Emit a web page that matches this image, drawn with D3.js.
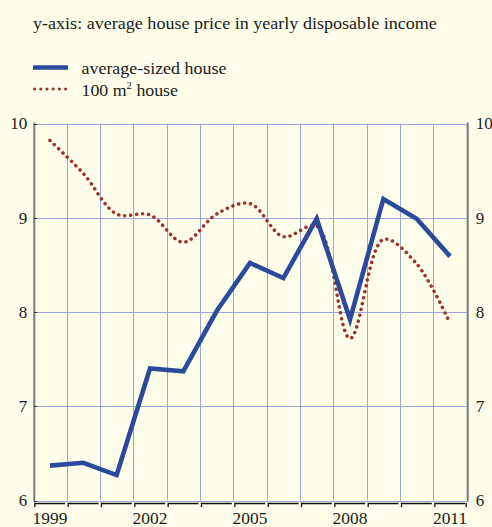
<!DOCTYPE html>
<html><head><meta charset="utf-8">
<script src="https://cdn.jsdelivr.net/npm/d3@7"></script>
<style>
html,body{margin:0;padding:0;background:#fefeea;}
svg{display:block;}
</style></head>
<body><svg id="c" width="492" height="527"></svg>
<script>
const years = [1999,2000,2001,2002,2003,2004,2005,2006,2007,2008,2009,2010,2011];
const averageSized = [6.37,6.40,6.27,7.40,7.37,8.01,8.52,8.36,8.99,7.92,9.20,8.99,8.59];
const house100 = [9.82,9.47,9.04,9.03,8.74,9.04,9.15,8.80,8.91,7.72,8.77,8.51,7.88];
const yTicks = [6,7,8,9,10];
const xLabels = [1999,2002,2005,2008,2011];
const titleText = "y-axis: average house price in yearly disposable income";
const legendLabels = ["average-sized house","100 m"];

const FONT = '"Liberation Serif", "Times New Roman", serif';
const svg = d3.select("#c");
const L = 33.3, R = 466.7, T = 123.5, B = 500.5;
const x = d3.scaleBand().domain(years).range([L,R]);
const y = d3.scaleLinear().domain([6,10]).range([B,T]);
const cx = d => x(d) + x.bandwidth()/2;

svg.append("rect").attr("width",492).attr("height",527).attr("fill","#fefeea");

// grid
const grid = svg.append("g").attr("stroke","#9ea4dc").attr("stroke-width",1);
years.slice(1).forEach(d=>{
  const gx = Math.round(x(d))+0.5;
  grid.append("line").attr("x1",gx).attr("x2",gx).attr("y1",T).attr("y2",B);
});
yTicks.forEach(v=>{
  const gy = Math.round(y(v))+0.5;
  grid.append("line").attr("x1",L).attr("x2",R).attr("y1",gy).attr("y2",gy);
});

// side axes
[L+1,R+1].forEach(ax=>{
  svg.append("line").attr("x1",ax).attr("x2",ax).attr("y1",T-1).attr("y2",B+1)
    .attr("stroke","#777").attr("stroke-width",2);
});
yTicks.forEach(v=>{
  const gy = Math.round(y(v))+0.5;
  svg.append("line").attr("x1",L+1).attr("x2",L+4).attr("y1",gy).attr("y2",gy).attr("stroke","#333").attr("stroke-width",1);
});

// y labels via axes
const yl = d3.axisLeft(y).tickValues(yTicks).tickSize(0).tickPadding(0).tickFormat(d3.format("d"));
const gl = svg.append("g").attr("transform",`translate(${L-6},0)`).call(yl);
const yr = d3.axisRight(y).tickValues(yTicks).tickSize(0).tickPadding(0).tickFormat(d3.format("d"));
const gr = svg.append("g").attr("transform",`translate(${R+9},0)`).call(yr);
[gl,gr].forEach(g=>{
  g.select(".domain").remove();
  g.selectAll("text").attr("font-size",17).attr("fill","#1a1a1a").attr("dy","0.32em").style("font-family",FONT);
});

// bottom bracket axis
const bot = svg.append("g").attr("stroke","#111").attr("fill","none");
years.forEach(d=>{
  const x0 = x(d), x1 = x(d)+x.bandwidth();
  bot.append("path").attr("d",`M${x0+1.5},507V503.5H${x1-1.5}`).attr("stroke-width",1.3);
});
bot.append("line").attr("x1",R-0.5).attr("x2",R-0.5).attr("y1",503).attr("y2",507).attr("stroke-width",1.3);

const xa = d3.axisBottom(x).tickValues(xLabels).tickSize(0).tickPadding(0);
const gx = svg.append("g").attr("transform","translate(0,512)").call(xa);
gx.select(".domain").remove();
gx.selectAll("text").attr("font-size",17.4).attr("fill","#1a1a1a").attr("dy","0.71em").style("font-family",FONT);

// lines
const lineAvg = d3.line().x((d,i)=>cx(years[i])).y(d=>y(d));
const line100 = d3.line().x((d,i)=>cx(years[i])).y(d=>y(d)).curve(d3.curveCatmullRom.alpha(0.5));

svg.append("path").attr("d",line100(house100)).attr("fill","none")
  .attr("stroke","#9b3328").attr("stroke-width",3.5).attr("stroke-linecap","round")
  .attr("stroke-dasharray","0.1 5.9");
svg.append("path").attr("d",lineAvg(averageSized)).attr("fill","none")
  .attr("stroke","#2c4a9d").attr("stroke-width",4.6).attr("stroke-linejoin","miter");

// stretched text helper
function stext(px, py, target){
  const t = svg.append("text").attr("font-size",16.6).attr("fill","#1a1a1a").style("font-family",FONT);
  return {t, fit(){
    const w = t.node().getComputedTextLength();
    t.attr("transform",`translate(${px},${py}) scale(${target/w},1)`);
  }};
}
const title = stext(33, 29, 404);
title.t.text(titleText); title.fit();

// legend
svg.append("line").attr("x1",33).attr("x2",68).attr("y1",67.5).attr("y2",67.5)
  .attr("stroke","#2c4a9d").attr("stroke-width",4.6);
svg.append("line").attr("x1",34.5).attr("x2",67).attr("y1",89).attr("y2",89)
  .attr("stroke","#9b3328").attr("stroke-width",3).attr("stroke-linecap","round")
  .attr("stroke-dasharray","0.1 6.1");
const l1 = stext(81.5, 73.5, 145);
l1.t.text(legendLabels[0]); l1.fit();
const l2 = stext(81.5, 95.5, 96.5);
l2.t.append("tspan").text(legendLabels[1]);
l2.t.append("tspan").attr("font-size",10).attr("dy",-6.5).text("2");
l2.t.append("tspan").attr("dy",6.5).text(" house");
l2.fit();
</script></body></html>
